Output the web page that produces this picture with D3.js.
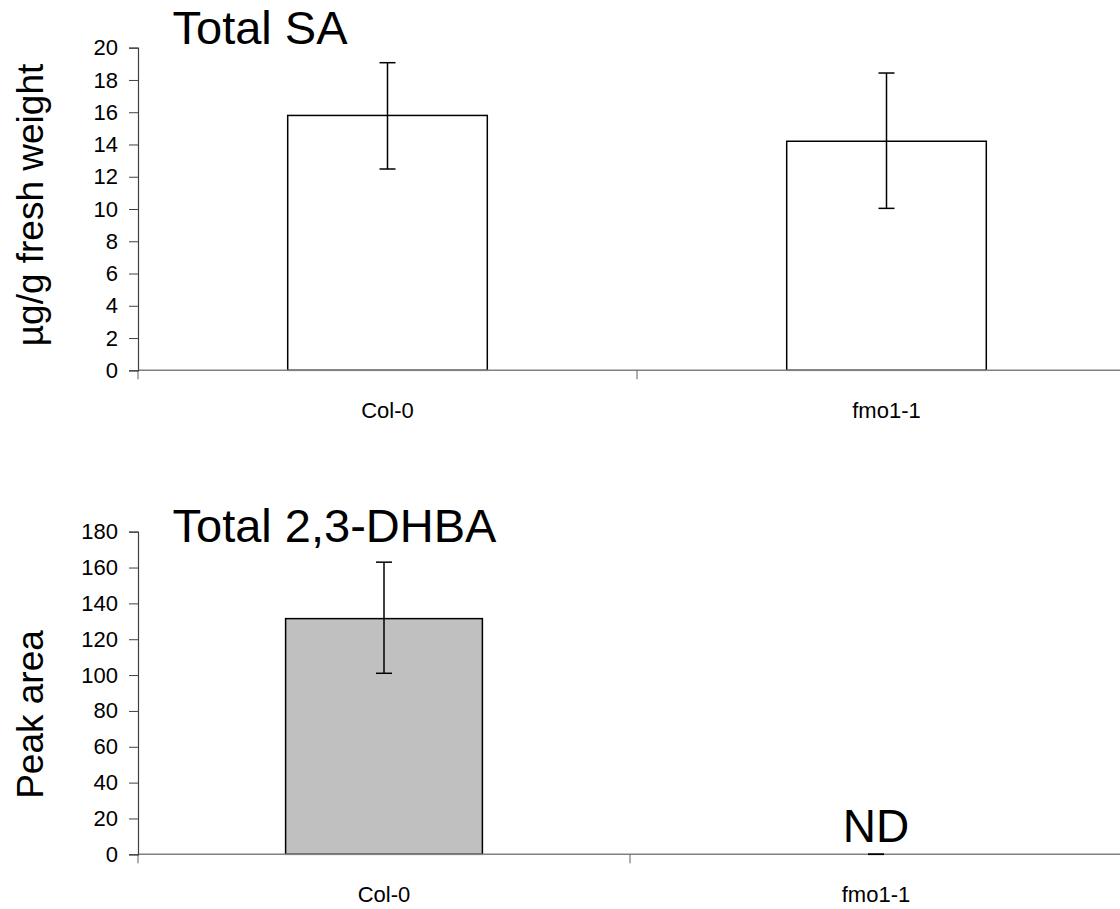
<!DOCTYPE html>
<html>
<head>
<meta charset="utf-8">
<script src="https://cdn.jsdelivr.net/npm/d3@7"></script>
<style>
  body { margin: 0; background: #fff; }
  text { font-family: "Liberation Sans", Arial, sans-serif; fill: #000; }
</style>
</head>
<body>
<div id="chart"></div>
<script>
// Genotypes on the x axis
var genotypes = ["Col-0", "fmo1-1"];

// Total SA (ug/g fresh weight): means and error bar ends
var saMean = [15.8, 14.2];
var saHigh = [19.07, 18.43];
var saLow = [12.48, 10.04];
var saTicks = [0, 2, 4, 6, 8, 10, 12, 14, 16, 18, 20];

// Total 2,3-DHBA (peak area); fmo1-1 not detected
var dhbaMean = [131.5, 0];
var dhbaHigh = [163, 0];
var dhbaLow = [101, 0];
var dhbaTicks = [0, 20, 40, 60, 80, 100, 120, 140, 160, 180];
var dhbaNote = ["", "ND"];

var width = 1120, height = 909;

var svg = d3.select("#chart").append("svg")
  .attr("width", width)
  .attr("height", height);

// Draws one bar panel. box holds the plot edges in pixels.
function drawPanel(opts) {
  var box = opts.box;
  var x = d3.scaleBand()
    .domain(genotypes)
    .range([box.left, box.right])
    .paddingInner(0.6)
    .paddingOuter(0.3);
  var y = d3.scaleLinear()
    .domain([0, opts.max])
    .range([box.bottom, box.top]);

  var g = svg.append("g");

  // bars
  g.selectAll(".bar")
    .data(genotypes)
    .enter().append("rect")
      .attr("x", function(d) { return x(d); })
      .attr("y", function(d, i) { return y(opts.mean[i]); })
      .attr("width", x.bandwidth())
      .attr("height", function(d, i) { return y(0) - y(opts.mean[i]); })
      .style("fill", opts.fill)
      .style("stroke", "#000")
      .style("stroke-width", 1.5);

  // x axis line (gray), runs off the right edge like the original
  g.append("line")
    .attr("x1", box.left).attr("x2", box.right)
    .attr("y1", y(0)).attr("y2", y(0))
    .style("stroke", "#808080").style("stroke-width", 1.5);

  // category ticks at band boundaries
  var bounds = [box.left, box.left + x.step(), box.left + 2 * x.step()];
  g.selectAll(".ctick")
    .data(bounds)
    .enter().append("line")
      .attr("x1", function(d) { return d; }).attr("x2", function(d) { return d; })
      .attr("y1", y(0)).attr("y2", y(0) + 9)
      .style("stroke", "#606060").style("stroke-width", 1);

  // y axis
  var yAxis = d3.axisLeft(y)
    .tickValues(opts.ticks)
    .tickSize(9)
    .tickPadding(11);
  var ya = g.append("g")
    .attr("transform", "translate(" + box.left + ",0)")
    .call(yAxis);
  ya.select(".domain").style("stroke", "#404040").style("stroke-width", 1.2);
  ya.selectAll(".tick line").style("stroke", "#404040");
  ya.selectAll(".tick text")
    .style("font-size", "22px")
    .style("font-family", '"Liberation Sans", Arial, sans-serif')
    .attr("fill", "#000");

  // error bars
  var cap = 8;
  genotypes.forEach(function(d, i) {
    var cx = x(d) + x.bandwidth() / 2;
    var eg = g.append("g").style("stroke", "#000").style("stroke-width", 1.5);
    eg.append("line").attr("x1", cx).attr("x2", cx)
      .attr("y1", y(opts.high[i])).attr("y2", y(opts.low[i]));
    eg.append("line").attr("x1", cx - cap).attr("x2", cx + cap)
      .attr("y1", y(opts.high[i])).attr("y2", y(opts.high[i]));
    eg.append("line").attr("x1", cx - cap).attr("x2", cx + cap)
      .attr("y1", y(opts.low[i])).attr("y2", y(opts.low[i]));
  });

  // category labels
  g.selectAll(".clabel")
    .data(genotypes)
    .enter().append("text")
      .text(function(d) { return d; })
      .attr("x", function(d) { return x(d) + x.bandwidth() / 2; })
      .attr("y", y(0) + 48)
      .style("text-anchor", "middle")
      .style("font-size", "22px");

  // notes above bars (ND)
  if (opts.note) {
    g.selectAll(".note")
      .data(genotypes)
      .enter().append("text")
        .text(function(d, i) { return opts.note[i]; })
        .attr("x", function(d) { return x(d) + x.bandwidth() / 2; })
        .attr("y", y(0) - 12.6)
        .style("text-anchor", "middle")
        .style("font-size", "46px");
  }

  // title
  g.append("text")
    .text(opts.title)
    .attr("x", box.left + 34.5)
    .attr("y", opts.titleY)
    .style("font-size", "47px");

  // y label
  g.append("text")
    .text(opts.ylabel)
    .attr("transform", "translate(" + opts.ylabelX + "," + opts.ylabelY + ") rotate(-90)")
    .style("text-anchor", "middle")
    .style("font-size", "37px");
}

drawPanel({
  box: { left: 138, right: 1136, top: 47.7, bottom: 370.3 },
  max: 20, ticks: saTicks,
  mean: saMean, high: saHigh, low: saLow,
  fill: "#fff",
  title: "Total SA", titleY: 44.3,
  ylabel: "\u00b5g/g fresh weight", ylabelX: 43, ylabelY: 205
});

drawPanel({
  box: { left: 138, right: 1122, top: 531.7, bottom: 854.3 },
  max: 180, ticks: dhbaTicks,
  mean: dhbaMean, high: dhbaHigh, low: dhbaLow,
  fill: "#c0c0c0",
  note: dhbaNote,
  title: "Total 2,3-DHBA", titleY: 541.7,
  ylabel: "Peak area", ylabelX: 43, ylabelY: 714.5
});
</script>
</body>
</html>
